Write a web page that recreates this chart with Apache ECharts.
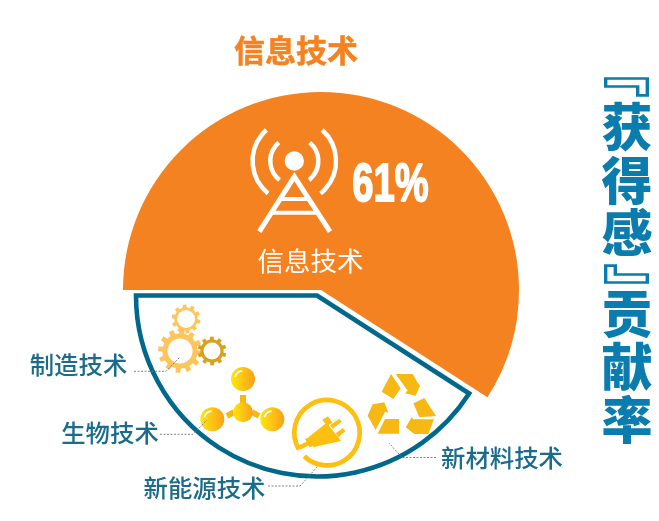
<!DOCTYPE html>
<html><head><meta charset="utf-8">
<style>html,body{margin:0;padding:0;background:#fff}#c{width:659px;height:521px}</style>
<script src="https://cdn.jsdelivr.net/npm/echarts@6/dist/echarts.min.js"></script>
</head><body><div id="c"></div>
<script>
// ---- data ----
const chartTitle = '信息技术';
const sideTitle = ['『','获','得','感','』','贡','献','率'];
const mainCategory = '信息技术';
const mainShare = 61;            // printed share
const remainderArc = 42.2;       // remainder slice
const otherCategories = ['制造技术','生物技术','新能源技术','新材料技术'];

// ---- styles ----
const ORANGE='#F58220', TEAL='#00688B', LABEL='#1A6C8A', BLUE='#0A7DAE', GOLD='#F6B913', PLUG='#FDC010', LGEAR='#FDC55B', DGEAR='#D9A11B', CJK='"Noto Sans CJK SC"';
const g=[];
const poly=(points,fill)=>g.push({type:'polygon',silent:true,shape:{points},style:{fill}});
const line=(pts,stroke,lineWidth,extra)=>g.push({type:'polyline',silent:true,shape:{points:pts},style:Object.assign({stroke,lineWidth,fill:'none'},extra||{})});
const circle=(cx,cy,r,fill)=>g.push({type:'circle',silent:true,shape:{cx,cy,r},style:{fill}});
const arc=(cx,cy,r,a,b,stroke,lineWidth)=>g.push({type:'arc',silent:true,shape:{cx,cy,r,startAngle:a*Math.PI/180,endAngle:b*Math.PI/180,clockwise:true},style:{stroke,lineWidth,fill:null}});
const text=(t,x,y,size,fill,weight,extra,styleExtra)=>g.push(Object.assign({type:'text',silent:true,x,y,style:Object.assign({text:t,fill,font:`${weight||400} ${size}px ${CJK}`,textAlign:'center',textVerticalAlign:'middle'},styleExtra||{})},extra||{}));

function gear(cx,cy,R,r,teeth,color,rot){
  const pts=[],rIn=R*0.8;
  for(let i=0;i<teeth;i++){
    const a=(i/teeth)*2*Math.PI+(rot||0), w=2*Math.PI/teeth;
    [[-.5,rIn],[-.28,rIn],[-.2,R],[.2,R],[.28,rIn]].forEach(([f,q])=>pts.push([cx+q*Math.cos(a+f*w),cy+q*Math.sin(a+f*w)]));
  }
  poly(pts,color); circle(cx,cy,r,'#fff');
}
function sphere(cx,cy,r){
  g.push({type:'circle',silent:true,shape:{cx,cy,r},style:{fill:new echarts.graphic.LinearGradient(0,0,1,0,[{offset:0,color:'#FFE60A'},{offset:1,color:'#F9A11B'}])}});
}
function highlight(cx,cy,r){ arc(cx,cy,r*0.68,195,265,'#fff',1.6); }

// ---- title + side title ----
text(chartTitle,296,50,31,ORANGE,700,{}, {stroke:ORANGE,lineWidth:0.5});
const sideY=[72,127,181,233,289,314,367,420];
sideTitle.forEach((c,i)=>{
  const br=(c==='『'||c==='』');
  text(c,br?(c==='『'?617:637):627,sideY[i],br?52:51,BLUE,900,br?{rotation:-Math.PI/2,scaleY:1.3}:{});
});

// ---- tower icon ----
const z2=(x,y)=>[230+x/3,110+y/3];
circle(294.3,161,9.7,'#fff');
arc(294.3,161,24,128,230,'#fff',4.5); arc(294.3,161,24,-50,52,'#fff',4.5);
arc(294.3,161,41.7,129,228,'#fff',4.5); arc(294.3,161,41.7,-48,51,'#fff',4.5);
line([z2(88,365),z2(193,200),z2(300,365)],'#fff',5);
line([z2(150,267),z2(236,267)],'#fff',4);
line([z2(124,308),z2(264,308)],'#fff',4);
text(mainShare+'%',390.5,186,53,'#fff',700,{scaleX:0.72},{font:'700 53px "Liberation Sans"',stroke:'#fff',lineWidth:1.8});
text(mainCategory,310.5,261,26.5,'#fff',400);

// ---- gears ----
gear(186,319,14.5,9,10,LGEAR,.2);
gear(180,351,22,12.5,12,LGEAR,.1);
gear(212,351,14.5,8.5,10,DGEAR,.3);

// ---- molecule ----
poly([[240,395],[246,395],[246,404],[240,404]],GOLD);
line([[227,416],[234,412]],GOLD,6); line([[252,412],[259,416]],GOLD,6);
sphere(243,379,12);sphere(212.3,419.3,12);sphere(272.3,419.3,12);sphere(243,412.3,10);
highlight(243,379,12);highlight(212.3,419.3,12);highlight(272.3,419.3,12);

// ---- plug ----
const z4=(x,y)=>[285+x/3,370+y/3];
arc(327,432.7,32.7,149,494,PLUG,4.7);
poly([[72,200],[125,158],[168,213],[103,227],[86,232]].map(p=>z4(...p)),PLUG);
poly([[60,207],[75,200],[86,228],[74,232]].map(p=>z4(...p)),PLUG);
line([z4(70,220),z4(42,233)],PLUG,4.5);
poly([[112,149],[129,139],[142,158],[126,168]].map(p=>z4(...p)),PLUG);
poly([[135,166],[163,146],[170,155],[143,176]].map(p=>z4(...p)),PLUG);
poly([[152,190],[174,174],[181,184],[160,202]].map(p=>z4(...p)),PLUG);

// ---- recycle ----
[[[318,12],[347,55],[325,87],[290,65]],
 [[332,12],[383,12],[398,38],[405,47],[392,77],[360,70],[368,62]],
 [[385,100],[418,84],[453,138],[403,142]],
 [[447,148],[430,192],[388,192],[362,172],[380,142],[385,148]],
 [[300,147],[342,147],[342,191],[278,191]],
 [[248,137],[263,103],[298,97],[310,128],[300,125],[272,180]]
].forEach(p=>poly(p.map(q=>z4(...q)),GOLD));

// ---- category labels + leaders ----
const labelCenters=[[78.5,365],[110,433],[204.5,488],[502,458]];
const leaders=[[[134,371.3],[166,371.3],[180,357]],[[160,434.3],[193,434.3],[207,420]],[[268,486],[300,486],[318,466]],[[436,457.5],[402,457.5],[389,443]]];
otherCategories.forEach((c,i)=>{
  text(c,labelCenters[i][0],labelCenters[i][1],24.4,LABEL,500);
  line(leaders[i],'#777',0.9,{lineDash:[2,1.5]});
});

const chart=echarts.init(document.getElementById('c'),null,{renderer:'canvas'});
const none={color:'transparent',borderWidth:0};
chart.setOption({
  animation:false,
  backgroundColor:'#fff',
  series:[
    {type:'pie',silent:true,center:[321,290],radius:[0,198],startAngle:180,clockwise:true,label:{show:false},labelLine:{show:false},z:1,
     data:[{name:mainCategory,value:mainShare,itemStyle:{color:ORANGE}},{name:'其他',value:remainderArc,itemStyle:none}]},
    {type:'pie',silent:true,center:[317,295.5],radius:[0,181],startAngle:180,clockwise:true,label:{show:false},labelLine:{show:false},z:2,
     data:[{name:mainCategory,value:mainShare,itemStyle:none},{name:'其他',value:remainderArc,itemStyle:{color:'#fff',borderColor:TEAL,borderWidth:4.6,borderJoin:'miter'}}]}
  ],
  graphic:{elements:g.map(e=>Object.assign({z:10},e))}
});
</script></body></html>
